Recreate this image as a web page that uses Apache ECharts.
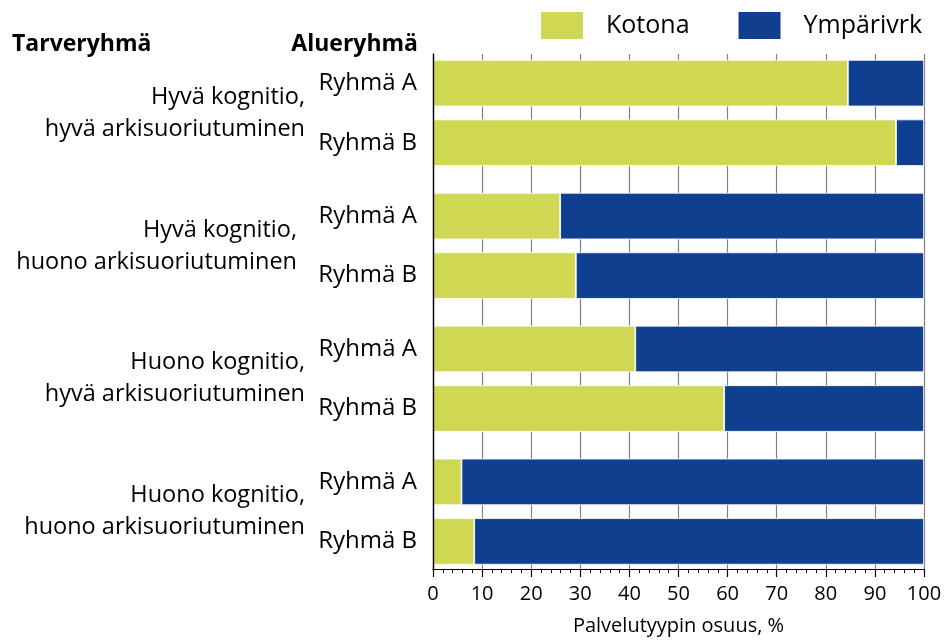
<!DOCTYPE html>
<html>
<head>
<meta charset="utf-8">
<script src="https://cdn.jsdelivr.net/npm/echarts@6/dist/echarts.min.js"></script>
<style>html,body{margin:0;padding:0;background:#fff}#c{width:950px;height:641px}</style>
</head>
<body>
<div id="c"></div>
<script>
const groups = [
  'Hyvä kognitio,\nhyvä arkisuoriutuminen',
  'Hyvä kognitio,\nhuono arkisuoriutuminen',
  'Huono kognitio,\nhyvä arkisuoriutuminen',
  'Huono kognitio,\nhuono arkisuoriutuminen'
];
const areaGroups = ['Ryhmä A', 'Ryhmä B'];
const seriesNames = ['Kotona', 'Ympärivrk'];
const kotonaA = [84.5, 25.9, 41.2, 5.8];
const kotonaB = [94.3, 29.1, 59.3, 8.4];
const ympA = [15.5, 74.1, 58.8, 94.2];
const ympB = [5.7, 70.9, 40.7, 91.6];
const xMin = 0, xMax = 100, xInterval = 10;
const xAxisName = 'Palvelutyypin osuus, %';
const header1 = 'Tarveryhmä';
const header2 = 'Alueryhmä';

const GREEN = '#D0D853';
const BLUE = '#0F3F8E';
const FONT = 'Open Sans';
const TXT = '#000';

const chart = echarts.init(document.getElementById('c'), null, {renderer: 'canvas'});

// small per-label nudges to follow the reference's hand placement
const labelPads = [[0, 0, 0, 0], [0, 8, 0, 0], [0, 0, 0, 0], [0, 0, 10, 0]];
const groupCats = groups.map((g, i) => ({value: g, textStyle: {padding: labelPads[i]}}));

function barSeries(name, stack, data, color, labelText) {
  const s = {
    name: name, type: 'bar', stack: stack, xAxisIndex: 0, yAxisIndex: 0,
    data: data, barWidth: 46.5, barGap: '28%',
    itemStyle: {color: color, borderColor: '#fff', borderWidth: 0.8},
    emphasis: {disabled: true}
  };
  if (labelText) {
    s.label = {show: true, position: 'left', distance: 16, formatter: labelText,
      color: TXT, fontFamily: FONT, fontSize: 24};
  }
  return s;
}

const option = {
  backgroundColor: '#fff',
  animation: false,
  title: [
    {text: header1, left: 12, top: 33, textStyle: {fontFamily: FONT, fontWeight: 'bold', fontSize: 23, color: TXT}, padding: 0},
    {text: header2, right: 532, top: 33, textStyle: {fontFamily: FONT, fontWeight: 'bold', fontSize: 23, color: TXT}, padding: 0}
  ],
  legend: {
    data: seriesNames, left: 539, top: 10, padding: 0,
    icon: 'rect', itemWidth: 44, itemHeight: 29, itemGap: 47,
    textStyle: {fontFamily: FONT, fontSize: 25, color: TXT, padding: [0, 0, 0, 17]}
  },
  grid: [
    {left: 433, right: 26, top: 46.5, height: 531.6, containLabel: false},
    {left: 433, right: 26, top: 54, bottom: 70, containLabel: false}
  ],
  xAxis: [
    {gridIndex: 0, type: 'value', min: xMin, max: xMax, show: false},
    {gridIndex: 1, type: 'value', min: xMin, max: xMax, interval: xInterval, position: 'bottom',
      axisLine: {show: true, lineStyle: {color: '#000', width: 1.2}},
      axisTick: {show: true, inside: false, length: 8, lineStyle: {color: '#000', width: 1.2}},
      minorTick: {show: true, splitNumber: 5, length: 4, lineStyle: {color: '#000', width: 1}},
      splitLine: {show: true, lineStyle: {color: '#857d8c', width: 1.2}},
      axisLabel: {fontFamily: FONT, fontSize: 20, color: TXT, margin: 15},
      name: xAxisName, nameLocation: 'middle', nameGap: 47,
      nameTextStyle: {fontFamily: FONT, fontSize: 20, color: TXT}
    },
    {gridIndex: 1, type: 'value', min: xMin, max: xMax, position: 'top',
      axisLine: {show: true, lineStyle: {color: '#000', width: 1.2}},
      axisTick: {show: false}, axisLabel: {show: false}, splitLine: {show: false}}
  ],
  yAxis: [
    {gridIndex: 0, type: 'category', data: groupCats, inverse: true,
      axisLine: {show: false}, axisTick: {show: false}, splitLine: {show: false},
      axisLabel: {fontFamily: FONT, fontSize: 23.5, color: TXT, margin: 128, align: 'right', lineHeight: 32}
    },
    {gridIndex: 1, type: 'value', min: 0, max: 1, position: 'left', z: 5,
      axisLine: {show: true, lineStyle: {color: '#000', width: 1.2}},
      axisTick: {show: false}, axisLabel: {show: false}, splitLine: {show: false}},
    {gridIndex: 1, type: 'value', min: 0, max: 1, position: 'right', z: 5,
      axisLine: {show: true, lineStyle: {color: '#000', width: 1.2}},
      axisTick: {show: false}, axisLabel: {show: false}, splitLine: {show: false}}
  ],
  series: [
    barSeries(seriesNames[0], 'a', kotonaA, GREEN, areaGroups[0]),
    barSeries(seriesNames[1], 'a', ympA, BLUE, null),
    barSeries(seriesNames[0], 'b', kotonaB, GREEN, areaGroups[1]),
    barSeries(seriesNames[1], 'b', ympB, BLUE, null)
  ]
};
chart.setOption(option);
</script>
</body>
</html>
